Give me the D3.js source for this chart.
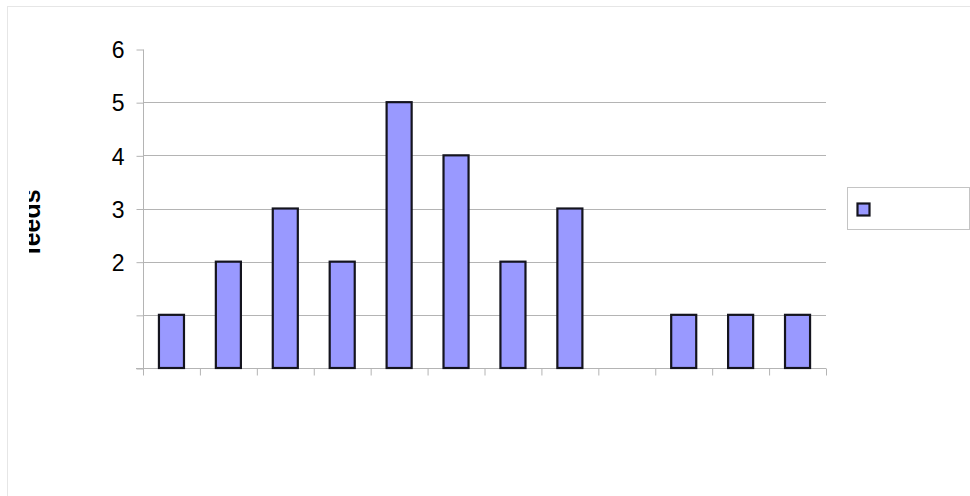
<!DOCTYPE html>
<html>
<head>
<meta charset="utf-8">
<script src="https://cdn.jsdelivr.net/npm/d3@7"></script>
<style>
  body { margin: 0; background: #fff; }
  svg { display: block; font-family: "Liberation Sans", Arial, sans-serif; }
</style>
</head>
<body>
<svg id="chart" width="970" height="496"></svg>
<script>
var categories = ['c1', 'c2', 'c3', 'c4', 'c5', 'c6', 'c7', 'c8', 'c9', 'c10', 'c11', 'c12'];
var counts = [1, 2, 3, 2, 5, 4, 2, 3, 0, 1, 1, 1];
var yTicks = [0, 1, 2, 3, 4, 5, 6];
var yLabels = ['', '', '2', '3', '4', '5', '6'];
var seriesName = '';
var yTitle = 'feeds';

var svg = d3.select('#chart');

// faint outer frame
svg.append('rect')
  .attr('x', 7.5).attr('y', 6.5)
  .attr('width', 970).attr('height', 496)
  .attr('fill', 'none')
  .attr('stroke', '#e6e6e6');

var plot = { left: 143, right: 826, top: 49, bottom: 368 };

var x = d3.scaleBand()
  .domain(categories)
  .range([plot.left, plot.right])
  .paddingInner(0.56)
  .paddingOuter(0.28);

var xEdges = d3.scaleLinear()
  .domain([0, categories.length])
  .range([plot.left, plot.right]);

var y = d3.scaleLinear()
  .domain([0, 6])
  .range([plot.bottom, plot.top]);

// gridlines (not at the top value)
svg.append('g')
  .selectAll('line')
  .data(yTicks.filter(function(d) { return d > 0 && d < 6; }))
  .join('line')
  .attr('x1', plot.left).attr('x2', plot.right)
  .attr('y1', function(d) { return Math.round(y(d)) + 0.5; })
  .attr('y2', function(d) { return Math.round(y(d)) + 0.5; })
  .attr('stroke', '#b4b4b4');

// y axis
var yAxis = svg.append('g')
  .attr('transform', 'translate(' + (plot.left + 0.5) + ',0.5)')
  .call(d3.axisLeft(y)
    .tickValues(yTicks)
    .tickSize(7)
    .tickPadding(12)
    .tickFormat(function(d, i) { return yLabels[i]; }));
yAxis.attr('font-size', null).attr('font-family', null);
yAxis.select('.domain').attr('stroke', '#b4b4b4')
  .attr('d', 'M0,' + plot.top + 'V' + plot.bottom);
yAxis.selectAll('.tick line').attr('stroke', '#b4b4b4');
yAxis.selectAll('.tick text')
  .style('font-size', '23px')
  .attr('fill', '#000')
  .attr('dy', '0.36em');

// x axis ticks at category boundaries
var xAxis = svg.append('g')
  .attr('transform', 'translate(0,' + (plot.bottom + 0.5) + ')')
  .call(d3.axisBottom(xEdges)
    .tickValues(d3.range(categories.length + 1))
    .tickSize(7)
    .tickFormat(''));
xAxis.select('.domain').attr('stroke', '#b4b4b4')
  .attr('d', 'M' + (plot.left - 7) + ',0H' + plot.right);
xAxis.selectAll('.tick line').attr('stroke', '#b4b4b4');

// bars
svg.append('g')
  .selectAll('rect')
  .data(counts.map(function(v, i) { return { cat: categories[i], value: v }; })
    .filter(function(d) { return d.value > 0; }))
  .join('rect')
  .attr('x', function(d) { return x(d.cat); })
  .attr('width', x.bandwidth())
  .attr('y', function(d) { return y(d.value); })
  .attr('height', function(d) { return y(0) - y(d.value); })
  .attr('fill', '#9999ff')
  .attr('stroke', '#14141e')
  .attr('stroke-width', 2.2);

// y axis title, only the lower half of the glyphs shows
svg.append('clipPath').attr('id', 'titleClip')
  .append('rect').attr('x', 29).attr('y', 150).attr('width', 40).attr('height', 150);
svg.append('g')
  .attr('clip-path', 'url(#titleClip)')
  .append('text')
  .attr('transform', 'translate(40,222) rotate(-90)')
  .attr('text-anchor', 'middle')
  .attr('font-size', 25)
  .attr('font-weight', 'bold')
  .attr('fill', '#000')
  .text(yTitle);

// legend
var legend = svg.append('g').attr('transform', 'translate(847.5,187.5)');
legend.append('rect')
  .attr('width', 122).attr('height', 42)
  .attr('fill', '#fff')
  .attr('stroke', '#c4c4c4');
legend.append('rect')
  .attr('x', 10).attr('y', 16)
  .attr('width', 12).attr('height', 12)
  .attr('fill', '#9999ff')
  .attr('stroke', '#14141e')
  .attr('stroke-width', 2.2);
legend.append('text')
  .attr('x', 30).attr('y', 27)
  .attr('font-size', 14)
  .text(seriesName);
</script>
</body>
</html>
